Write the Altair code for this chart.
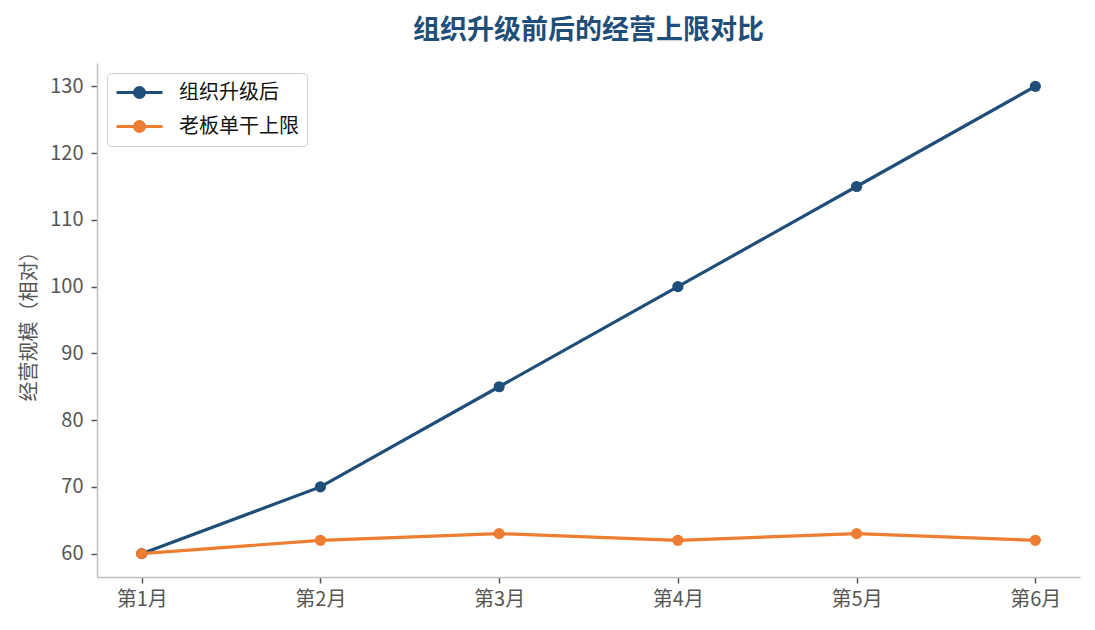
import altair as alt
import pandas as pd

# 数据
months = ["第1月", "第2月", "第3月", "第4月", "第5月", "第6月"]
after_upgrade = [60, 70, 85, 100, 115, 130]
boss_alone = [60, 62, 63, 62, 63, 62]
series_names = ["组织升级后", "老板单干上限"]
series_colors = ["#1f4e79", "#ed7d31"]
y_ticks = [60, 70, 80, 90, 100, 110, 120, 130]

df = pd.DataFrame({
    "month": months * 2,
    "value": after_upgrade + boss_alone,
    "series": [series_names[0]] * len(months) + [series_names[1]] * len(months),
})

FONT = "Noto Sans CJK SC"

# line + dot legend symbol; path units are sqrt(size)/2 px, drawn wider than the
# reserved box so the rows stay compact
legend_symbol = "M-1,0H3.6M1.8,0A0.5,0.5,0,1,1,0.8,0A0.5,0.5,0,1,1,1.8,0Z"

legend = alt.Legend(
    title=None, orient="top-left", offset=10,
    symbolType=legend_symbol, symbolSize=400, symbolStrokeWidth=3,
    symbolOpacity=1,
    labelFontSize=20, labelColor="#111111", labelFont=FONT,
    rowPadding=11, padding=8, strokeColor="#cccccc", fillColor="white",
    cornerRadius=4, labelOffset=41,
)
color_scale = alt.Scale(domain=series_names, range=series_colors)

axis_style = dict(labelFontSize=20, labelColor="#555555", tickColor="#555555",
                  tickSize=6, tickWidth=1.5, domainColor="#bfbfbf", domainWidth=1.5)

base = alt.Chart(df).encode(
    x=alt.X(
        "month:N", sort=months, title=None,
        scale=alt.Scale(type="point", padding=0.25),
        axis=alt.Axis(labelAngle=0, labelPadding=6, **axis_style),
    ),
    y=alt.Y(
        "value:Q", title="经营规模（相对）",
        scale=alt.Scale(domain=[56.5, 133.5], nice=False, zero=False),
        axis=alt.Axis(values=y_ticks, labelPadding=8, grid=False,
                      titleFontSize=20, titleFontWeight="normal", titleColor="#555555",
                      titleX=-68, titleY=258, titleAngle=-90, titleAlign="center",
                      titleBaseline="middle", **axis_style),
    ),
)

lines = base.mark_line(strokeWidth=3.2).encode(
    stroke=alt.Stroke("series:N", sort=series_names, scale=color_scale, legend=legend),
)
dots = base.mark_circle(size=125, opacity=1).encode(
    fill=alt.Fill("series:N", sort=series_names, scale=color_scale, legend=legend),
)

chart = alt.layer(lines, dots).properties(
    width=983,
    height=514,
    autosize=alt.AutoSizeParams(type="none"),
    padding={"left": 89, "top": 55, "right": 7, "bottom": 45},
    title=alt.Title("组织升级前后的经营上限对比", fontSize=27, fontWeight="bold",
                    color="#1f4e79", font=FONT, anchor="middle", offset=18),
).configure(
    font=FONT,
).configure_view(
    stroke=None,
)

chart.save("out.html", embed_options={"renderer": "svg", "actions": False})
